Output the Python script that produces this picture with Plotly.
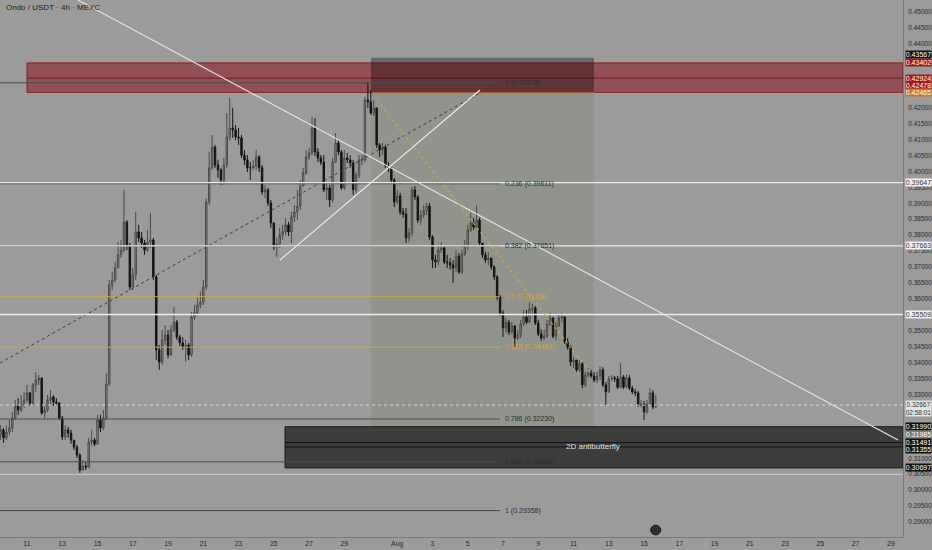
import pandas as pd
import plotly.graph_objects as go

# ---------------- data ----------------
START = "2025-07-09 12:00"          # first visible 4h candle
FIRST_OPEN = 0.3173

CLOSE = [
    0.3189, 0.3164, 0.3182, 0.3195, 0.3226, 0.3264, 0.3251, 0.3270, 0.3283, 0.3305, 0.3273, 0.3330,
    0.3345, 0.3352, 0.3242, 0.3251, 0.3283, 0.3292, 0.3276, 0.3273, 0.3226, 0.3167, 0.3189, 0.3179,
    0.3157, 0.3135, 0.3110, 0.3063, 0.3076, 0.3072, 0.3151, 0.3157, 0.3145, 0.3220, 0.3195, 0.3226,
    0.3333, 0.3644, 0.3659, 0.3697, 0.3738, 0.3753, 0.3841, 0.3766, 0.3637, 0.3675, 0.3810, 0.3791,
    0.3775, 0.3753, 0.3778, 0.3785, 0.3669, 0.3440, 0.3402, 0.3471, 0.3487, 0.3424, 0.3503, 0.3527,
    0.3480, 0.3462, 0.3449, 0.3455, 0.3424, 0.3543, 0.3556, 0.3581, 0.3590, 0.3637, 0.3904, 0.4011,
    0.4076, 0.4020, 0.4004, 0.3973, 0.4020, 0.4108, 0.4136, 0.4130, 0.4108, 0.4105, 0.4051, 0.4036,
    0.4011, 0.4011, 0.4017, 0.4045, 0.4011, 0.3935, 0.3942, 0.3901, 0.3838, 0.3763, 0.3772, 0.3800,
    0.3810, 0.3832, 0.3810, 0.3857, 0.3873, 0.3891, 0.3954, 0.3995, 0.4045, 0.4058, 0.4136, 0.4061,
    0.4042, 0.4029, 0.3942, 0.3948, 0.3910, 0.4029, 0.4089, 0.4061, 0.3948, 0.4042, 0.4036, 0.4026,
    0.3942, 0.3989, 0.4036, 0.4036, 0.4224, 0.4218, 0.4183, 0.4199, 0.4083, 0.4067, 0.4076, 0.4017,
    0.4011, 0.3973, 0.3904, 0.3923, 0.3873, 0.3866, 0.3791, 0.3807, 0.3942, 0.3920, 0.3847, 0.3863,
    0.3876, 0.3891, 0.3794, 0.3722, 0.3716, 0.3753, 0.3760, 0.3716, 0.3713, 0.3706, 0.3697, 0.3734,
    0.3684, 0.3741, 0.3766, 0.3816, 0.3838, 0.3825, 0.3847, 0.3775, 0.3738, 0.3722, 0.3728, 0.3700,
    0.3669, 0.3606, 0.3556, 0.3509, 0.3527, 0.3496, 0.3515, 0.3477, 0.3487, 0.3521, 0.3543, 0.3527,
    0.3568, 0.3571, 0.3524, 0.3490, 0.3477, 0.3483, 0.3521, 0.3540, 0.3483, 0.3515, 0.3540, 0.3543,
    0.3465, 0.3449, 0.3402, 0.3408, 0.3377, 0.3396, 0.3330, 0.3361, 0.3367, 0.3358, 0.3345, 0.3358,
    0.3377, 0.3330, 0.3308, 0.3349, 0.3352, 0.3349, 0.3323, 0.3355, 0.3323, 0.3352, 0.3320, 0.3308,
    0.3305, 0.3267, 0.3270, 0.3245, 0.3270, 0.3305, 0.3261, 0.32667,
]
HIGH = [
    0.3204, 0.3195, 0.3204, 0.3220, 0.3245, 0.3283, 0.3289, 0.3298, 0.3308, 0.3330, 0.3308, 0.3336,
    0.3370, 0.3361, 0.3352, 0.3267, 0.3298, 0.3314, 0.3298, 0.3289, 0.3276, 0.3233, 0.3204, 0.3198,
    0.3189, 0.3157, 0.3142, 0.3116, 0.3094, 0.3088, 0.3164, 0.3189, 0.3164, 0.3236, 0.3236, 0.3251,
    0.3367, 0.3659, 0.3684, 0.3716, 0.3778, 0.3785, 0.3942, 0.3847, 0.3775, 0.3697, 0.3873, 0.3832,
    0.3810, 0.3785, 0.3816, 0.3869, 0.3791, 0.3675, 0.3455, 0.3503, 0.3518, 0.3503, 0.3518, 0.3574,
    0.3534, 0.3487, 0.3480, 0.3471, 0.3462, 0.3559, 0.3581, 0.3603, 0.3622, 0.3659, 0.3916, 0.4061,
    0.4114, 0.4083, 0.4036, 0.4011, 0.4042, 0.4183, 0.4230, 0.4199, 0.4145, 0.4136, 0.4114, 0.4067,
    0.4051, 0.4029, 0.4036, 0.4067, 0.4051, 0.4020, 0.3957, 0.3948, 0.3910, 0.3841, 0.3791, 0.3822,
    0.3832, 0.3854, 0.3841, 0.3873, 0.3894, 0.3942, 0.3973, 0.4011, 0.4067, 0.4073, 0.4171, 0.4167,
    0.4073, 0.4051, 0.4051, 0.3964, 0.3957, 0.4042, 0.4120, 0.4098, 0.4067, 0.4067, 0.4058, 0.4051,
    0.4036, 0.3998, 0.4051, 0.4051, 0.4233, 0.4278, 0.4255, 0.4224, 0.4199, 0.4089, 0.4089, 0.4083,
    0.4029, 0.4014, 0.3979, 0.3942, 0.3932, 0.3885, 0.3885, 0.3822, 0.3951, 0.3954, 0.3926, 0.3879,
    0.3894, 0.3901, 0.3901, 0.3800, 0.3738, 0.3769, 0.3778, 0.3766, 0.3738, 0.3728, 0.3722, 0.3753,
    0.3744, 0.3753, 0.3785, 0.3832, 0.3869, 0.3854, 0.3894, 0.3854, 0.3775, 0.3747, 0.3747, 0.3728,
    0.3706, 0.3675, 0.3612, 0.3565, 0.3540, 0.3534, 0.3527, 0.3518, 0.3503, 0.3534, 0.3565, 0.3565,
    0.3590, 0.3584, 0.3578, 0.3534, 0.3503, 0.3503, 0.3534, 0.3556, 0.3543, 0.3527, 0.3553, 0.3556,
    0.3546, 0.3477, 0.3455, 0.3418, 0.3408, 0.3408, 0.3402, 0.3371, 0.3383, 0.3377, 0.3371, 0.3371,
    0.3389, 0.3386, 0.3339, 0.3358, 0.3361, 0.3358, 0.3358, 0.3399, 0.3361, 0.3364, 0.3361, 0.3327,
    0.3317, 0.3311, 0.3283, 0.3280, 0.3283, 0.3320, 0.3314, 0.3298,
]
LOW = [
    0.3157, 0.3148, 0.3157, 0.3170, 0.3182, 0.3220, 0.3236, 0.3245, 0.3258, 0.3276, 0.3264, 0.3267,
    0.3308, 0.3330, 0.3236, 0.3226, 0.3245, 0.3267, 0.3264, 0.3264, 0.3220, 0.3157, 0.3157, 0.3164,
    0.3145, 0.3126, 0.3101, 0.3054, 0.3060, 0.3063, 0.3069, 0.3138, 0.3138, 0.3142, 0.3182, 0.3189,
    0.3220, 0.3327, 0.3628, 0.3653, 0.3697, 0.3728, 0.3747, 0.3753, 0.3628, 0.3628, 0.3659, 0.3778,
    0.3760, 0.3738, 0.3747, 0.3760, 0.3659, 0.3408, 0.3377, 0.3393, 0.3455, 0.3414, 0.3421, 0.3496,
    0.3471, 0.3452, 0.3440, 0.3402, 0.3408, 0.3418, 0.3534, 0.3549, 0.3571, 0.3581, 0.3628, 0.3894,
    0.4004, 0.4011, 0.3979, 0.3957, 0.3957, 0.4011, 0.4098, 0.4105, 0.4098, 0.4083, 0.4042, 0.4020,
    0.3998, 0.3973, 0.4004, 0.4004, 0.3998, 0.3926, 0.3916, 0.3891, 0.3822, 0.3753, 0.3731, 0.3760,
    0.3785, 0.3800, 0.3797, 0.3775, 0.3841, 0.3847, 0.3879, 0.3954, 0.3989, 0.4036, 0.4051, 0.4048,
    0.4029, 0.4020, 0.3935, 0.3910, 0.3888, 0.3901, 0.4026, 0.4051, 0.3942, 0.3942, 0.4026, 0.4011,
    0.3926, 0.3932, 0.3979, 0.4020, 0.4029, 0.4199, 0.4177, 0.4174, 0.4073, 0.4045, 0.4051, 0.4011,
    0.3998, 0.3964, 0.3888, 0.3898, 0.3863, 0.3854, 0.3775, 0.3778, 0.3797, 0.3910, 0.3838, 0.3832,
    0.3854, 0.3863, 0.3785, 0.3697, 0.3697, 0.3706, 0.3744, 0.3709, 0.3697, 0.3691, 0.3650, 0.3684,
    0.3678, 0.3678, 0.3734, 0.3753, 0.3810, 0.3816, 0.3819, 0.3769, 0.3728, 0.3713, 0.3706, 0.3691,
    0.3659, 0.3596, 0.3546, 0.3480, 0.3493, 0.3487, 0.3490, 0.3449, 0.3471, 0.3477, 0.3515, 0.3521,
    0.3524, 0.3546, 0.3518, 0.3483, 0.3468, 0.3471, 0.3477, 0.3515, 0.3477, 0.3471, 0.3512, 0.3527,
    0.3458, 0.3440, 0.3389, 0.3383, 0.3371, 0.3371, 0.3320, 0.3323, 0.3352, 0.3352, 0.3339, 0.3336,
    0.3345, 0.3323, 0.3267, 0.3305, 0.3342, 0.3339, 0.3317, 0.3320, 0.3317, 0.3320, 0.3314, 0.3301,
    0.3295, 0.3261, 0.3261, 0.3220, 0.3239, 0.3267, 0.3254, 0.3258,
]

TITLE = "Ondo / USDT · 4h · MEXC"
COUNTDOWN = "02:58:01"

X_TICK_DATES = ["2025-07-11", "2025-07-13", "2025-07-15", "2025-07-17", "2025-07-19",
                "2025-07-21", "2025-07-23", "2025-07-25", "2025-07-27", "2025-07-29",
                "2025-08-01", "2025-08-03", "2025-08-05", "2025-08-07", "2025-08-09",
                "2025-08-11", "2025-08-13", "2025-08-15", "2025-08-17", "2025-08-19",
                "2025-08-21", "2025-08-23", "2025-08-25", "2025-08-27", "2025-08-29"]
X_TICK_TEXT = ["11", "13", "15", "17", "19", "21", "23", "25", "27", "29", "Aug",
               "3", "5", "7", "9", "11", "13", "15", "17", "19", "21", "23", "25", "27", "29"]
# price ticks still visible between the axis labels
Y_TICKS = [0.290, 0.295, 0.300, 0.305, 0.310, 0.330, 0.335, 0.340, 0.345, 0.350,
           0.360, 0.365, 0.370, 0.375, 0.380, 0.385, 0.390, 0.395, 0.400, 0.405,
           0.410, 0.415, 0.420, 0.440, 0.445, 0.450]

FIB_RATIOS = ["0", "0.236", "0.382", "0.5", "0.618", "0.786", "0.886", "1"]
FIB_PRICES = [0.42778, 0.39611, 0.37651, 0.36068, 0.34484, 0.32230, 0.30888, 0.29358]
FIB_END = "2025-08-06 19:55"
FIB_TREND = [("2025-07-09 11:15", 0.33988), ("2025-08-06 17:11", 0.42778)]

H_LEVELS = [0.39647, 0.37663, 0.35509]
LIGHT_LEVEL = 0.30496

SUPPLY_ZONE = [0.42478, 0.43402]
SUPPLY_MID = 0.42924
SUPPLY_START = "2025-07-11 00:00"

POS_ENTRY, POS_STOP, POS_TARGET = 0.42465, 0.43567, 0.31990
POS_START, POS_END = "2025-07-30 12:17", "2025-08-12 03:52"

PATTERN_ZONE = [0.30697, 0.31990]
PATTERN_INNER = [0.31355, 0.31491]
PATTERN_START = "2025-07-25 15:13"
PATTERN_TEXT = "2D antibutterfly"
PATTERN_TEXT_AT = ("2025-08-12 02:30", 0.31362)
TRENDLINE_AXIS_PRICE = 0.31985

TRENDLINE = [("2025-07-13 21:26", 0.45376), ("2025-08-29 09:40", 0.31573)]
WEDGE_LINE = [("2025-07-25 08:24", 0.37219), ("2025-08-05 16:40", 0.42552)]
PATH_LINE = [("2025-07-30 20:28", 0.42239), ("2025-08-11 22:25", 0.33705)]

X_RANGE = ["2025-07-09 11:15", "2025-08-29 16:30"]
Y_RANGE = [0.28529, 0.45376]

# ---------------- styling ----------------
W, H = 932, 550
M_R, M_B = 29, 13
PLOT_H = H - M_B
BG = "#9b9b9b"
FONT = "Liberation Sans"
PX = (Y_RANGE[1] - Y_RANGE[0]) / PLOT_H  # price per pixel

times = pd.date_range(START, periods=len(CLOSE), freq="4h")
opens = [FIRST_OPEN] + CLOSE[:-1]

fig = go.Figure(go.Candlestick(
    x=times, open=opens, high=HIGH, low=LOW, close=CLOSE,
    increasing=dict(fillcolor="#8e8a84", line=dict(color="#4d4a46", width=1)),
    decreasing=dict(fillcolor="#141414", line=dict(color="#141414", width=1)),
    whiskerwidth=0, showlegend=False, hoverinfo="skip",
))

shapes = []
# supply zone (red)
shapes.append(dict(type="rect", xref="x", yref="y", x0=SUPPLY_START, x1=X_RANGE[1],
                   y0=SUPPLY_ZONE[0], y1=SUPPLY_ZONE[1], layer="below",
                   fillcolor="rgba(135,5,15,0.50)", line=dict(color="#8a1b1f", width=1)))
shapes.append(dict(type="line", xref="x", yref="y", x0=SUPPLY_START, x1=X_RANGE[1],
                   y0=SUPPLY_MID, y1=SUPPLY_MID, layer="below",
                   line=dict(color="#7a1a1d", width=1)))
# position tool
shapes.append(dict(type="rect", xref="x", yref="y", x0=POS_START, x1=POS_END,
                   y0=POS_ENTRY, y1=POS_STOP, layer="below",
                   fillcolor="rgba(0,0,0,0.32)", line=dict(width=0)))
shapes.append(dict(type="rect", xref="x", yref="y", x0=POS_START, x1=POS_END,
                   y0=POS_TARGET, y1=POS_ENTRY, layer="below",
                   fillcolor="rgba(105,125,90,0.22)", line=dict(width=0)))
shapes.append(dict(type="line", xref="x", yref="y", x0=POS_START, x1=POS_END,
                   y0=POS_ENTRY, y1=POS_ENTRY, layer="below",
                   line=dict(color="#c8762f", width=1)))
# pattern box
shapes.append(dict(type="rect", xref="x", yref="y", x0=PATTERN_START, x1=X_RANGE[1],
                   y0=PATTERN_ZONE[0], y1=PATTERN_ZONE[1], layer="below",
                   fillcolor="rgba(25,25,25,0.72)", line=dict(color="#1c1c1c", width=1)))
for lv in PATTERN_INNER:
    shapes.append(dict(type="line", xref="x", yref="y", x0=PATTERN_START, x1=X_RANGE[1],
                       y0=lv, y1=lv, layer="below", line=dict(color="#111111", width=1)))
# light level + current price
shapes.append(dict(type="line", xref="paper", yref="y", x0=0, x1=1, y0=LIGHT_LEVEL,
                   y1=LIGHT_LEVEL, line=dict(color="#c4c4c4", width=1.2)))
shapes.append(dict(type="line", xref="paper", yref="y", x0=0, x1=1, y0=CLOSE[-1],
                   y1=CLOSE[-1], line=dict(color="#d8d8d8", width=1, dash="dot")))
# fib levels
for r, p in zip(FIB_RATIOS, FIB_PRICES):
    col = "#d6a040" if r in ("0.5", "0.618") else "#4a4a4a"
    shapes.append(dict(type="line", xref="x", yref="y", x0=X_RANGE[0], x1=FIB_END,
                       y0=p, y1=p, line=dict(color=col, width=1)))
shapes.append(dict(type="line", xref="x", yref="y", x0=FIB_TREND[0][0], y0=FIB_TREND[0][1],
                   x1=FIB_TREND[1][0], y1=FIB_TREND[1][1],
                   line=dict(color="#3c3c3c", width=1, dash="dot")))
# white horizontal levels
for lv in H_LEVELS:
    shapes.append(dict(type="line", xref="paper", yref="y", x0=0, x1=1, y0=lv, y1=lv,
                       line=dict(color="#ececec", width=1.4)))
# trend lines
for seg, col, dash in ((TRENDLINE, "#e6e6e6", "solid"), (WEDGE_LINE, "#ededed", "solid"),
                       (PATH_LINE, "#d9a441", "dot")):
    shapes.append(dict(type="line", xref="x", yref="y", x0=seg[0][0], y0=seg[0][1],
                       x1=seg[1][0], y1=seg[1][1], line=dict(color=col, width=1.1, dash=dash)))
# small icon at bottom
shapes.append(dict(type="circle", xref="x", yref="paper", x0="2025-08-15 09:00",
                   x1="2025-08-15 22:40", y0=0.004, y1=0.022,
                   fillcolor="#2e2e2e", line=dict(color="#1a1a1a", width=1)))

ann = []
ann.append(dict(xref="paper", yref="paper", x=0.004, y=(PLOT_H - 7) / PLOT_H, text=TITLE,
                showarrow=False, xanchor="left", yanchor="middle",
                font=dict(family=FONT, size=8, color="#1e1e1e")))
for r, p in zip(FIB_RATIOS, FIB_PRICES):
    col = "#d6a040" if r in ("0.5", "0.618") else "#2e2e2e"
    ann.append(dict(xref="x", yref="y", x="2025-08-07 00:00", y=p, text=f"{r} ({p:.5f})",
                    showarrow=False, xanchor="left", yanchor="middle",
                    font=dict(family=FONT, size=7, color=col)))
ann.append(dict(xref="x", yref="y", x=PATTERN_TEXT_AT[0], y=PATTERN_TEXT_AT[1],
                text=PATTERN_TEXT, showarrow=False, xanchor="center", yanchor="middle",
                font=dict(family=FONT, size=8, color="#e8e8e8")))

# price-axis labels: (price, pixel shift, background, text colour)
AXIS_LABELS = [
    (POS_STOP, -3.3, "#111111", "#ffffff"),
    (SUPPLY_ZONE[1], 0, "#a3161c", "#ffffff"),
    (SUPPLY_MID, 0, "#a3161c", "#ffffff"),
    (SUPPLY_ZONE[0], -6.6, "#a3161c", "#ffffff"),
    (POS_ENTRY, 0, "#c8762f", "#ffffff"),
    (H_LEVELS[0], 0, "#f2f2f2", "#333333"),
    (H_LEVELS[1], 0, "#f2f2f2", "#333333"),
    (H_LEVELS[2], 0, "#f2f2f2", "#333333"),
    (POS_TARGET, 0, "#111111", "#ffffff"),
    (TRENDLINE_AXIS_PRICE, 7.3, "#7c7c7c", "#ffffff"),
    (PATTERN_INNER[1], 0, "#111111", "#ffffff"),
    (PATTERN_INNER[0], 3, "#111111", "#ffffff"),
    (PATTERN_ZONE[0], 0, "#111111", "#ffffff"),
]
for p, shift, bg, fg in AXIS_LABELS:
    ann.append(dict(xref="paper", yref="y", x=1.0025, y=p - shift * PX, text=f"{p:.5f}",
                    showarrow=False, xanchor="left", yanchor="middle", width=25, height=7,
                    bgcolor=bg, borderpad=0, font=dict(family=FONT, size=7, color=fg)))
ann.append(dict(xref="paper", yref="y", x=1.0025, y=CLOSE[-1] - 3.2 * PX,
                text=f"{CLOSE[-1]:.5f}<br>{COUNTDOWN}", showarrow=False,
                xanchor="left", yanchor="middle", width=25, bgcolor="#e4e4e4",
                borderpad=0, font=dict(family=FONT, size=6.5, color="#333333")))

fig.update_layout(
    width=W, height=H, margin=dict(l=0, r=M_R, t=0, b=M_B, autoexpand=False),
    paper_bgcolor=BG, plot_bgcolor=BG, showlegend=False,
    shapes=shapes, annotations=ann,
    xaxis=dict(type="date", range=X_RANGE, rangeslider=dict(visible=False),
               tickmode="array", tickvals=X_TICK_DATES, ticktext=X_TICK_TEXT,
               showgrid=False, zeroline=False, showline=True, linecolor="#7a7a7a",
               ticks="", tickfont=dict(family=FONT, size=7, color="#2a2a2a")),
    yaxis=dict(range=Y_RANGE, side="right", tickmode="array", tickvals=Y_TICKS,
               tickformat=".5f", showgrid=False, zeroline=False, showline=True,
               linecolor="#7a7a7a", ticks="",
               tickfont=dict(family=FONT, size=6.5, color="#2a2a2a"),
               ticklabelstandoff=3),
)

fig.write_html("out.html", config={"displayModeBar": False},
               post_script="document.body.style.margin='0';document.body.style.overflow='hidden';")
